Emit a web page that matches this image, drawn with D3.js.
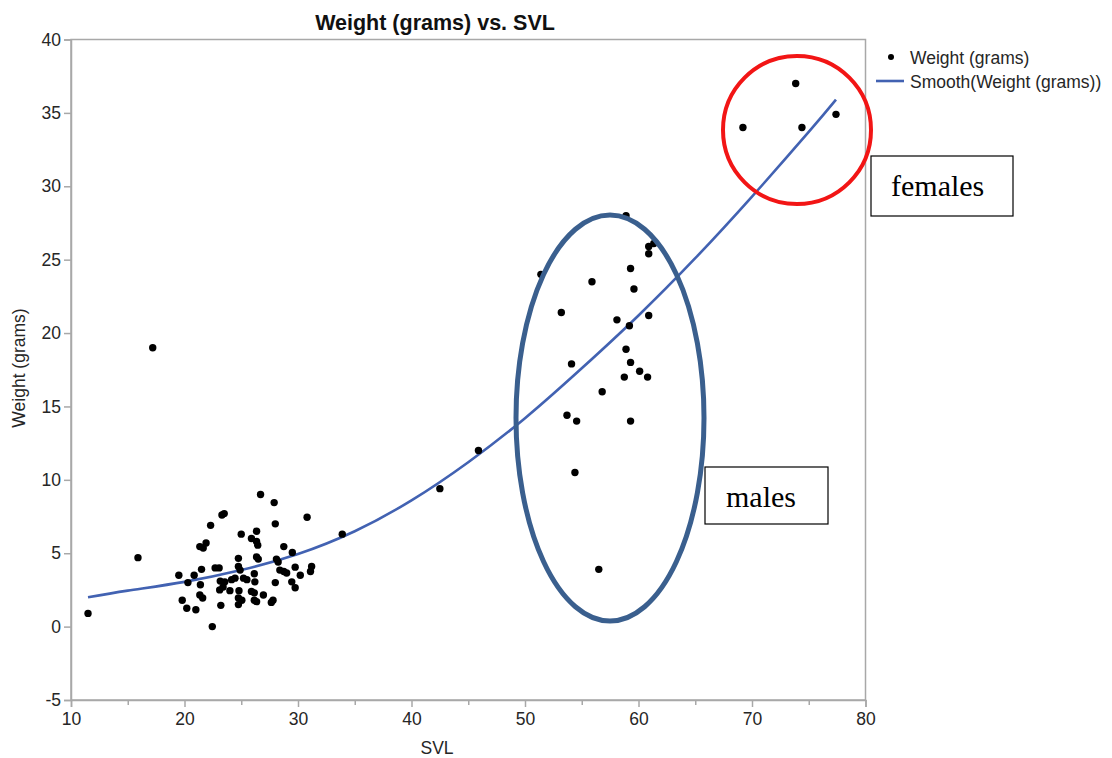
<!DOCTYPE html>
<html>
<head>
<meta charset="utf-8">
<script src="https://cdn.jsdelivr.net/npm/d3@7"></script>
<style>
  html, body { margin: 0; padding: 0; background: #ffffff; }
  svg { display: block; }
  text { font-family: "Liberation Sans", Arial, sans-serif; }
</style>
</head>
<body>
<svg id="chart" width="1112" height="758"></svg>
<script>
// ---- data ----
const svl = [
  // small animals cluster
  19.5, 19.8, 20.2, 20.3, 20.85, 21.0, 21.5, 21.4, 21.35, 21.6,
  21.35, 21.65, 21.9, 22.3, 22.45, 22.7, 23.05, 23.2, 23.15, 23.4,
  23.1, 23.55, 23.3, 23.5, 24.15, 24.45, 24.0, 24.75, 24.75, 24.9,
  25.0, 25.2, 25.5, 24.8, 24.75, 25.05, 24.75, 25.9, 26.35, 26.35,
  26.45, 26.35, 26.5, 26.15, 26.2, 25.9, 26.15, 26.15, 26.35, 26.95,
  26.7, 27.9, 28.0, 28.1, 28.25, 28.4, 28.0, 27.8, 27.65, 28.75,
  28.75, 29.0, 29.5, 29.45, 29.75, 29.75, 30.2, 30.8, 31.1, 31.2,
  // isolated points
  11.5, 15.9, 17.2, 33.9, 42.5, 45.9,
  // males
  51.4, 53.2, 55.9, 58.9, 60.9, 61.35, 60.9, 59.3, 59.6, 58.1,
  60.9, 59.2, 58.9, 54.1, 59.3, 60.1, 58.75, 60.8, 56.8, 53.7,
  54.55, 59.3, 54.4, 56.5,
  // females
  69.2, 73.85, 74.4, 77.4
];
const weight = [
  3.5, 1.8, 1.25, 3.0, 3.5, 1.15, 3.9, 2.85, 2.15, 1.95,
  5.45, 5.35, 5.7, 6.9, 0.0, 4.0, 4.0, 1.45, 3.1, 2.7,
  2.5, 3.05, 7.6, 7.7, 3.2, 3.3, 2.45, 4.65, 4.1, 3.85,
  6.3, 3.3, 3.2, 2.45, 1.95, 1.8, 1.5, 6.0, 6.5, 5.8,
  5.55, 4.75, 4.6, 3.6, 3.05, 2.4, 2.3, 1.8, 1.7, 2.15,
  9.0, 8.45, 7.0, 4.6, 4.4, 3.85, 3.0, 1.8, 1.65, 5.45,
  3.75, 3.65, 5.05, 3.05, 4.05, 2.65, 3.5, 7.45, 3.75, 4.1,
  0.9, 4.7, 19.0, 6.3, 9.4, 12.0,
  24.0, 21.4, 23.5, 28.0, 25.9, 26.1, 25.4, 24.4, 23.0, 20.9,
  21.2, 20.5, 18.9, 17.9, 18.0, 17.4, 17.0, 17.0, 16.0, 14.4,
  14.0, 14.0, 10.5, 3.9,
  34.0, 37.0, 34.0, 34.9
];
// smoother curve
const smoothSvl    = [11.5, 15, 20, 25, 30, 35, 40, 45, 50, 55, 60, 65, 70, 75, 77.4];
const smoothWeight = [2.0, 2.45, 3.05, 3.85, 4.95, 6.5, 8.6, 11.2, 14.2, 17.6, 21.2, 25.1, 29.3, 33.7, 35.9];

const xTicks = [10, 20, 30, 40, 50, 60, 70, 80];
const xMinorTicks = [15, 25, 35, 45, 55, 65, 75];
const yTicks = [-5, 0, 5, 10, 15, 20, 25, 30, 35, 40];

const titleText = "Weight (grams) vs. SVL";
const xLabel = "SVL";
const yLabel = "Weight (grams)";
const legendLabels = ["Weight (grams)", "Smooth(Weight (grams))"];

// ---- layout ----
const svg = d3.select("#chart");
const plot = { left: 71, right: 865.5, top: 39.5, bottom: 700 };
const x = d3.scaleLinear().domain([10, 80]).range([plot.left, plot.right]);
const y = d3.scaleLinear().domain([-5, 40]).range([plot.bottom, plot.top]);

const axisColor = "#a8a8a8";
const textColor = "#262626";
const lineColor = "#4262b2";

// frame
svg.append("rect")
  .attr("x", plot.left).attr("y", plot.top)
  .attr("width", plot.right - plot.left).attr("height", plot.bottom - plot.top)
  .attr("fill", "none").attr("stroke", axisColor).attr("stroke-width", 1.5);

// y axis
const yAxis = svg.append("g")
  .attr("transform", `translate(${plot.left},0)`)
  .call(d3.axisLeft(y).tickValues(yTicks).tickSize(7).tickPadding(3).tickFormat(d => String(d)));
// x axis major
const xAxis = svg.append("g")
  .attr("transform", `translate(0,${plot.bottom})`)
  .call(d3.axisBottom(x).tickValues(xTicks).tickSize(7).tickPadding(6).tickFormat(d => String(d)));
// x axis minor
const xMinor = svg.append("g")
  .attr("transform", `translate(0,${plot.bottom})`)
  .call(d3.axisBottom(x).tickValues(xMinorTicks).tickSize(5).tickFormat(""));

[yAxis, xAxis, xMinor].forEach(g => {
  g.select(".domain").attr("stroke", axisColor).attr("stroke-width", 1.5);
  g.selectAll(".tick line").attr("stroke", axisColor).attr("stroke-width", 1.5);
  g.selectAll(".tick text")
    .attr("fill", textColor)
    .style("font-family", '"Liberation Sans", Arial, sans-serif')
    .style("font-size", "17.5px");
});
xMinor.select(".domain").remove();

// title
svg.append("text")
  .attr("x", 435).attr("y", 29.5)
  .attr("text-anchor", "middle")
  .attr("fill", "#111")
  .style("font-size", "21.5px").style("font-weight", "bold")
  .text(titleText);

// axis labels
svg.append("text")
  .attr("x", 437).attr("y", 754)
  .attr("text-anchor", "middle")
  .attr("fill", textColor)
  .style("font-size", "17.5px")
  .text(xLabel);
svg.append("text")
  .attr("transform", "translate(25,368) rotate(-90)")
  .attr("text-anchor", "middle")
  .attr("fill", textColor)
  .style("font-size", "17.5px")
  .text(yLabel);

// smooth line
const pts = smoothSvl.map((d, i) => [d, smoothWeight[i]]);
svg.append("path")
  .datum(pts)
  .attr("fill", "none")
  .attr("stroke", lineColor)
  .attr("stroke-width", 2.6)
  .attr("d", d3.line().x(d => x(d[0])).y(d => y(d[1])).curve(d3.curveNatural));

// points
svg.append("g").selectAll("circle")
  .data(svl.map((d, i) => ({ s: d, w: weight[i] })))
  .join("circle")
  .attr("cx", d => x(d.s))
  .attr("cy", d => y(d.w))
  .attr("r", 3.7)
  .attr("fill", "#000");

// legend
const lg = svg.append("g");
lg.append("circle").attr("cx", 891).attr("cy", 57).attr("r", 3).attr("fill", "#000");
lg.append("text").attr("x", 910).attr("y", 63.5).attr("fill", textColor)
  .style("font-size", "17.5px").text(legendLabels[0]);
lg.append("line").attr("x1", 876).attr("x2", 904).attr("y1", 81).attr("y2", 81)
  .attr("stroke", lineColor).attr("stroke-width", 2.6);
lg.append("text").attr("x", 910).attr("y", 88).attr("fill", textColor)
  .style("font-size", "17.5px").text(legendLabels[1]);

// annotations
svg.append("ellipse")
  .attr("cx", 797).attr("cy", 130).attr("rx", 74).attr("ry", 74)
  .attr("fill", "none").attr("stroke", "#f21515").attr("stroke-width", 4);
svg.append("ellipse")
  .attr("cx", 610).attr("cy", 418).attr("rx", 94).attr("ry", 203)
  .attr("fill", "none").attr("stroke", "#3a5f8e").attr("stroke-width", 5);

function box(x0, y0, w, h, label, tx, ty) {
  svg.append("rect").attr("x", x0).attr("y", y0).attr("width", w).attr("height", h)
    .attr("fill", "#fff").attr("stroke", "#000").attr("stroke-width", 1.2);
  svg.append("text").attr("x", tx).attr("y", ty)
    .style("font-family", '"Liberation Serif", "Times New Roman", serif')
    .style("font-size", "30px").attr("fill", "#000").text(label);
}
box(871, 156, 142, 60, "females", 891, 196);
box(705, 467, 123, 57, "males", 726, 507);
</script>
</body>
</html>
